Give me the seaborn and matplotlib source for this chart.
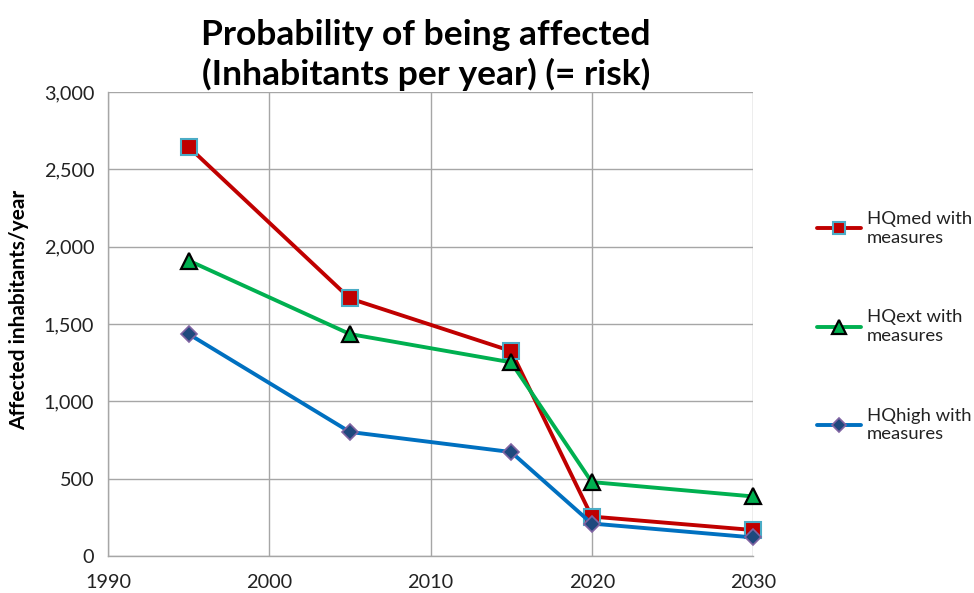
import numpy as np
import pandas as pd
import seaborn as sns
import matplotlib.pyplot as plt
from matplotlib.ticker import FuncFormatter

years = [1995, 2005, 2015, 2020, 2030]
hq_med = [2645, 1665, 1325, 255, 168]
hq_ext = [1910, 1435, 1252, 478, 385]
hq_high = [1435, 802, 672, 210, 120]
series_names = ["HQmed with\nmeasures", "HQext with\nmeasures", "HQhigh with\nmeasures"]

sns.set_theme(style="white")
plt.rcParams["font.family"] = ["Lato", "DejaVu Sans"]

fig = plt.figure(figsize=(9.74, 5.93), dpi=100)
ax = fig.add_axes([0.1109, 0.0624, 0.6622, 0.7825])

styles = [
    dict(color="#C00000", marker="s", mfc="#C00000", mec="#4BACC6", ms=11, mew=1.5),
    dict(color="#00B050", marker="^", mfc="#00B050", mec="#000000", ms=12, mew=1.6),
    dict(color="#0070C0", marker="D", mfc="#1F497D", mec="#8064A2", ms=8.5, mew=1.2),
]

for vals, name, st in zip([hq_med, hq_ext, hq_high], series_names, styles):
    df = pd.DataFrame({"year": years, "value": vals})
    sns.lineplot(data=df, x="year", y="value", ax=ax, color=st["color"],
                 linewidth=2.8, marker=st["marker"], markerfacecolor=st["mfc"],
                 markeredgecolor=st["mec"], markersize=st["ms"],
                 markeredgewidth=st["mew"], label=name, clip_on=False, zorder=3)

ax.set_xlim(1990, 2030)
ax.set_ylim(0, 3000)
ax.set_xticks([1990, 2000, 2010, 2020, 2030])
ax.set_yticks(np.arange(0, 3001, 500))
ax.yaxis.set_major_formatter(FuncFormatter(lambda v, p: f"{int(v):,}"))
ax.grid(True, color="#A6A6A6", linewidth=1.0)
ax.set_axisbelow(True)
for side in ["top", "right"]:
    ax.spines[side].set_visible(False)
for side in ["left", "bottom"]:
    ax.spines[side].set_color("#A6A6A6")
    ax.spines[side].set_linewidth(1.0)
ax.tick_params(axis="both", which="both", length=5, width=1, color="#A6A6A6",
               labelsize=14.3, labelcolor="#222222", direction="out", pad=5)
ax.tick_params(axis="x", pad=8)

ax.set_xlabel("")
ax.set_ylabel("Affected inhabitants/year", fontsize=15, fontweight="bold",
              color="#000000")
ax.yaxis.set_label_coords(-0.122, 0.53)

fig.text(0.437, 0.907, "Probability of being affected\n(Inhabitants per year) (= risk)",
         ha="center", va="center", fontsize=25.5, fontweight="bold",
         linespacing=1.25, color="#000000")

handles, labels = ax.get_legend_handles_labels()
ax.legend(handles, labels, loc="center left", bbox_to_anchor=(1.073, 0.494),
          frameon=False, fontsize=13.3, labelspacing=3.45, handlelength=2.4,
          handletextpad=0.3, markerscale=0.8, labelcolor="#222222")

fig.savefig("out.png", dpi=100)
